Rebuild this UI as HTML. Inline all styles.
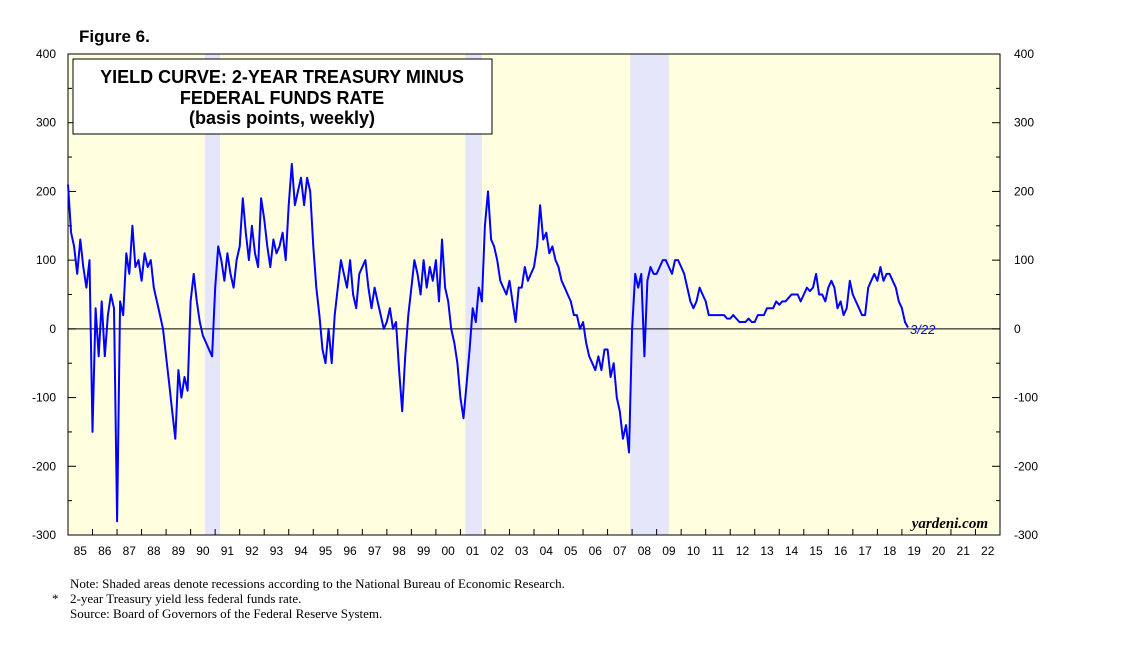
<!DOCTYPE html>
<html><head><meta charset="utf-8">
<style>
body{margin:0;background:#fff;width:1138px;height:653px;overflow:hidden;font-family:"Liberation Sans",sans-serif;}
svg{position:absolute;left:0;top:0}
</style></head>
<body>
<svg width="1138" height="653">
<text x="79" y="42" font-size="17" font-weight="bold">Figure 6.</text>
<g id="plot"></g>
<text x="70" y="588" font-family="Liberation Serif" font-size="13">Note: Shaded areas denote recessions according to the National Bureau of Economic Research.</text>
<text x="52" y="603" font-family="Liberation Serif" font-size="13">*</text>
<text x="70" y="603" font-family="Liberation Serif" font-size="13">2-year Treasury yield less federal funds rate.</text>
<text x="70" y="618" font-family="Liberation Serif" font-size="13">Source: Board of Governors of the Federal Reserve System.</text>
</svg>
<script>
const yTicks=[400,300,200,100,0,-100,-200,-300];
const years=[85,86,87,88,89,90,91,92,93,94,95,96,97,98,99,"00","01","02","03","04","05","06","07","08","09",10,11,12,13,14,15,16,17,18,19,20,21,22];
const recessions=[[1990.58,1991.2],[2001.2,2001.88],[2007.92,2009.5]];
const startYear=1985;
const spread=[
210,140,120,80,130,90,60,100,
-150,30,-40,40,-40,20,50,30,
-280,40,20,110,80,150,90,100,
70,110,90,100,60,40,20,0,
-40,-80,-120,-160,-60,-100,-70,-90,
40,80,40,10,-10,-20,-30,-40,
60,120,100,70,110,80,60,100,
120,190,140,100,150,110,90,190,
160,120,90,130,110,120,140,100,
180,240,180,200,220,180,220,200,
120,60,20,-30,-50,0,-50,20,
60,100,80,60,100,50,30,80,
90,100,60,30,60,40,20,0,
10,30,0,10,-60,-120,-40,20,
60,100,80,50,100,60,90,70,
100,40,130,60,40,0,-20,-50,
-100,-130,-80,-30,30,10,60,40,
150,200,130,120,100,70,60,50,
70,40,10,60,60,90,70,80,
90,120,180,130,140,110,120,100,
90,70,60,50,40,20,20,0,
10,-20,-40,-50,-60,-40,-60,-30,
-30,-70,-50,-100,-120,-160,-140,-180,
0,80,60,80,-40,70,90,80,
80,90,100,100,90,80,100,100,
90,80,60,40,30,40,60,50,
40,20,20,20,20,20,20,15,
15,20,15,10,10,10,15,10,
10,20,20,20,30,30,30,40,
35,40,40,45,50,50,50,40,
50,60,55,60,80,50,50,40,
60,70,60,30,40,20,30,70,
50,40,30,20,20,60,70,80,
70,90,70,80,80,70,60,40,
30,10,2];
const X0=68,X1=1000,Y0=54,Y1=535;
const xs=t=>X0+(t-1985)*(X1-X0)/38;
const ys=v=>Y0+(400-v)*(Y1-Y0)/700;
const NS="http://www.w3.org/2000/svg";
const g=document.getElementById('plot');
function mk(tag,attrs,parent){const e=document.createElementNS(NS,tag);for(const k in attrs)e.setAttribute(k,attrs[k]);(parent||g).appendChild(e);return e;}
let e=mk('rect',{x:X0,y:Y0,width:X1-X0,height:Y1-Y0,fill:'#ffffe0'});


recessions.forEach(r=>{const el=mk('rect',{x:xs(r[0]),y:Y0,width:xs(r[1])-xs(r[0]),height:Y1-Y0,fill:'#e6e6fa'});

});
e=mk('line',{x1:X0,x2:X1,y1:ys(0),y2:ys(0),stroke:'#000','stroke-width':1});


for(let v=-300;v<=400;v+=50){const major=v%100===0;const L=major?8:4;
mk('line',{x1:X0,x2:X0+L,y1:ys(v),y2:ys(v),stroke:'#000'});
mk('line',{x1:X1-L,x2:X1,y1:ys(v),y2:ys(v),stroke:'#000'});}
yTicks.forEach(v=>{let t=mk('text',{x:X0-12,y:ys(v)+4,'text-anchor':'end','font-size':12});t.textContent=v;


t=mk('text',{x:X1+14,y:ys(v)+4,'font-size':12});t.textContent=v;

});
years.forEach((y,i)=>{const x=xs(1985+i);mk('line',{x1:x,x2:x,y1:Y1,y2:Y1-6,stroke:'#000'});
const t=mk('text',{x:x+(X1-X0)/76,y:Y1+20,'text-anchor':'middle','font-size':12});t.textContent=y;

});
e=mk('rect',{x:X0,y:Y0,width:X1-X0,height:Y1-Y0,fill:'none',stroke:'#000'});


let d='';spread.forEach((v,i)=>{const t=startYear+i/8;d+=(i?'L':'M')+xs(t).toFixed(1)+','+ys(v).toFixed(1);});
e=mk('path',{d:d,fill:'none',stroke:'#0000ff','stroke-width':2,'stroke-linejoin':'round'});


e=mk('text',{x:910,y:334,'font-size':13,'font-style':'italic',fill:'#0000ff'});e.textContent='3/22';


e=mk('text',{x:988,y:528,'font-size':15,'font-style':'italic','font-weight':'bold','font-family':'Liberation Serif','text-anchor':'end'});e.textContent='yardeni.com';


const box=mk('g',{});


mk('rect',{x:73,y:59,width:419,height:75,fill:'#fff',stroke:'#000'},box);
[['YIELD CURVE: 2-YEAR TREASURY MINUS',83],['FEDERAL FUNDS RATE',104],['(basis points, weekly)',124]].forEach(a=>{const t=mk('text',{x:282,y:a[1],'text-anchor':'middle','font-size':18,'font-weight':'bold'},box);t.textContent=a[0];});
</script>
</body></html>
